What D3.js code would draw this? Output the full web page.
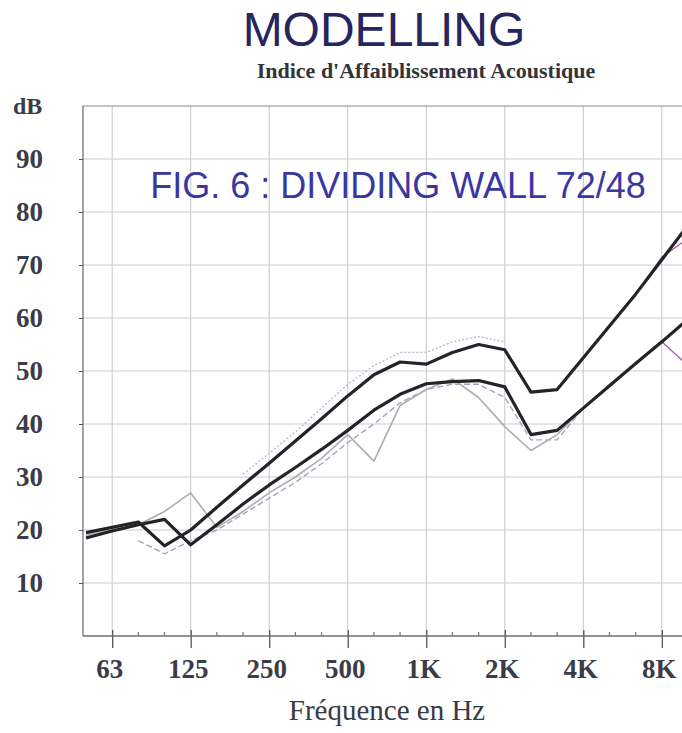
<!DOCTYPE html>
<html>
<head>
<meta charset="utf-8">
<script src="https://cdnjs.cloudflare.com/ajax/libs/d3/7.8.5/d3.min.js"></script>
<style>
  body { margin: 0; background: #fff; }
  svg { display: block; }
</style>
</head>
<body>
<div id="chart"></div>
<script>
// third-octave bands, 50 Hz .. 10 kHz
var bands = ["50","63","80","100","125","160","200","250","315","400","500","630",
             "800","1000","1250","1600","2000","2500","3150","4000","5000","6300","8000","10000"];
var octaveBands  = ["63","125","250","500","1000","2000","4000","8000"];
var octaveLabels = ["63","125","250","500","1K","2K","4K","8K"];
var dbTicks = [10,20,30,40,50,60,70,80,90];

// thick black curves (dB)
var upperCurve = [19.5,20.5,21.5,17,20,24.3,28.5,32.6,36.8,41,45.3,49.3,
                  51.7,51.3,53.5,55,54,46,46.5,52.5,58.5,64.5,71,77.5];
var lowerCurve = [18.5,19.8,21,22,17.2,21,24.9,28.5,31.8,35.2,38.8,42.6,
                  45.6,47.6,48,48.2,47,38,38.8,43,47.2,51.4,55.5,59.8];
// thin grey measured curve
var greyCurve  = [19,20,21,23.5,27,20.5,23.5,27,30,33.5,38,33,
                  43.5,46.5,48.5,45,39.5,35,38,43,null,null,null,null];
// light dashed curve under the lower one
var dashedCurve = [null,null,18,15.5,18,20,23,26,29,32.5,36.5,40,
                   44,46.5,47.5,47.5,45,37,37,43,null,null,null,null];
// light dotted curve over the upper one
var dottedCurve = [null,null,null,null,null,null,30.5,34.5,38.5,43,47.5,51,
                   53.5,53.5,55.5,56.5,55.5,null,null,null,null,null,null,null];
// purple end pieces
var purpleHigh = [null,null,null,null,null,null,null,null,null,null,null,null,
                  null,null,null,null,null,null,null,null,null,64.5,71.5,75];
var purpleLow  = [null,null,null,null,null,null,null,null,null,null,null,null,
                  null,null,null,null,null,null,null,null,null,51.4,55.5,51];

var W = 682, H = 733;
var margin = {top: 106, left: 83, bottom: 636};

var svg = d3.select("#chart").append("svg")
    .attr("width", W)
    .attr("height", H);

var x = d3.scalePoint().domain(bands).range([86, 688]);
var y = d3.scaleLinear().domain([0, 100]).range([margin.bottom, margin.top]);

// grid
var grid = svg.append("g");
grid.selectAll(".vg").data(octaveBands).enter().append("line")
    .attr("x1", function(d) { return x(d); }).attr("x2", function(d) { return x(d); })
    .attr("y1", y(100)).attr("y2", y(0))
    .style("stroke", "#c4c4ce").style("stroke-width", 1);
grid.selectAll(".hg").data(dbTicks).enter().append("line")
    .attr("x1", margin.left).attr("x2", W)
    .attr("y1", function(d) { return y(d); }).attr("y2", function(d) { return y(d); })
    .style("stroke", "#cbcbd4").style("stroke-width", 1);

// frame
svg.append("line").attr("x1", margin.left).attr("x2", W).attr("y1", y(100)).attr("y2", y(100))
    .style("stroke", "#8a8a92").style("stroke-width", 1.2);
svg.append("line").attr("x1", margin.left).attr("x2", margin.left).attr("y1", y(100)).attr("y2", y(0))
    .style("stroke", "#7a7a84").style("stroke-width", 1.4);

// y axis
var yAxis = svg.append("g")
    .attr("transform", "translate(" + margin.left + ",0)")
    .call(d3.axisLeft(y).tickValues(dbTicks).tickSize(4).tickPadding(36));
yAxis.select(".domain").remove();
yAxis.selectAll("line").style("stroke", "#555");
yAxis.selectAll("text")
    .style("font-family", "'Liberation Serif', 'Times New Roman', serif")
    .style("font-weight", "bold")
    .style("font-size", "27px")
    .style("fill", "#3c3c48");

// x axis
var xAxis = svg.append("g")
    .attr("transform", "translate(0," + y(0) + ")")
    .call(d3.axisBottom(x).tickValues(octaveBands).tickSize(12).tickPadding(11)
      .tickFormat(function(d, i) { return octaveLabels[i]; }));
xAxis.select(".domain").remove();
xAxis.selectAll("line").attr("y1", -6).style("stroke", "#555").style("stroke-width", 1.3);
xAxis.selectAll("text")
    .attr("dx", -3)
    .style("font-family", "'Liberation Serif', 'Times New Roman', serif")
    .style("font-weight", "bold")
    .style("font-size", "27px")
    .style("fill", "#3c3c48");
svg.append("line").attr("x1", margin.left).attr("x2", W).attr("y1", y(0)).attr("y2", y(0))
    .style("stroke", "#6c6c76").style("stroke-width", 1.6);

// minor third-octave ticks
svg.append("g").selectAll("line")
    .data(bands.filter(function(d) { return octaveBands.indexOf(d) < 0 && d !== "50" && d !== "10000"; }))
    .enter().append("line")
    .attr("x1", function(d) { return x(d); }).attr("x2", function(d) { return x(d); })
    .attr("y1", y(0)).attr("y2", y(0) - 4)
    .style("stroke", "#777").style("stroke-width", 1.2);

// curves
var line = d3.line()
    .defined(function(d) { return d != null; })
    .x(function(d, i) { return x(bands[i]); })
    .y(function(d) { return y(d); });

function drawCurve(values, color, width, dash) {
  svg.append("path")
      .datum(values)
      .attr("d", line)
      .style("fill", "none")
      .style("stroke", color)
      .style("stroke-width", width)
      .style("stroke-dasharray", dash || null)
      .style("stroke-linejoin", "round");
}

drawCurve(dottedCurve, "#b6b6d6", 1.3, "2,2");
drawCurve(dashedCurve, "#a4a4bc", 1.4, "6,3");
drawCurve(greyCurve, "#adadad", 1.6);
drawCurve(purpleHigh, "#a45aa8", 1.3);
drawCurve(purpleLow, "#a45aa8", 1.3);
drawCurve(upperCurve, "#232328", 3.2);
drawCurve(lowerCurve, "#232328", 3.2);

// texts
svg.append("text").attr("x", 384).attr("y", 46).attr("text-anchor", "middle")
    .style("font-family", "'Liberation Sans', Arial, sans-serif")
    .style("font-size", "48px").style("fill", "#26265e")
    .text("MODELLING");
svg.append("text").attr("x", 426).attr("y", 78).attr("text-anchor", "middle")
    .style("font-family", "'Liberation Serif', 'Times New Roman', serif")
    .style("font-weight", "bold")
    .style("font-size", "22px").style("fill", "#333338")
    .text("Indice d'Affaiblissement Acoustique");
svg.append("text").attr("x", 13).attr("y", 114)
    .style("font-family", "'Liberation Serif', 'Times New Roman', serif")
    .style("font-weight", "bold")
    .style("font-size", "24px").style("fill", "#3c3c48")
    .text("dB");
svg.append("text").attr("x", 398).attr("y", 198).attr("text-anchor", "middle")
    .style("font-family", "'Liberation Sans', Arial, sans-serif")
    .style("font-size", "36px").style("fill", "#3a37a2")
    .text("FIG. 6 : DIVIDING WALL 72/48");
svg.append("text").attr("x", 387).attr("y", 720).attr("text-anchor", "middle")
    .style("font-family", "'Liberation Serif', 'Times New Roman', serif")
    .style("font-size", "29px").style("fill", "#3a3a44")
    .text("Fréquence en Hz");
</script>
</body>
</html>
